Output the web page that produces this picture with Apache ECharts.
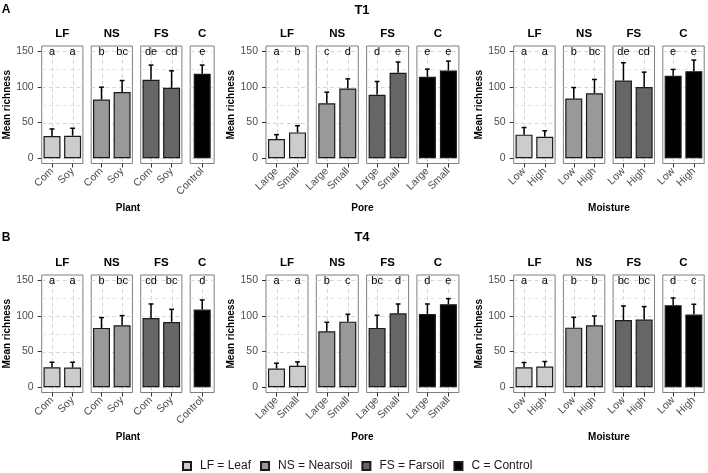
<!DOCTYPE html>
<html><head><meta charset="utf-8">
<script src="https://cdn.jsdelivr.net/npm/echarts@6/dist/echarts.min.js"></script>
<style>html,body{margin:0;padding:0;background:#fff}#c{width:708px;height:473px}</style>
</head><body><div id="c"></div>
<script>
// ---------------- data ----------------
const facets = ['LF', 'NS', 'FS', 'C'];
const legendNames = ['LF = Leaf', 'NS = Nearsoil', 'FS = Farsoil', 'C = Control'];
const plantCats = [['Com', 'Soy'], ['Com', 'Soy'], ['Com', 'Soy'], ['Control']];
const poreCats = ['Large', 'Small'];
const moistureCats = ['Low', 'High'];
const yTicks = [0, 50, 100, 150];
const yGridMajor = [0, 50, 100, 150];
const yGridMinor = [25, 75, 125];
const letterLevel = 150;

// T1 (panel A)
const t1PlantMean = [[31, 31.5], [82.3, 93], [110, 98.7], [118.5]];
const t1PlantUpper = [[41, 42], [99.7, 109], [130.7, 122.7], [130.7]];
const t1PlantLetters = [['a', 'a'], ['b', 'bc'], ['de', 'cd'], ['e']];

const t1PoreMean = [[26.8, 36.2], [77, 97.8], [88.9, 120], [114.2, 123.2]];
const t1PoreUpper = [[33, 45.6], [92.6, 111.4], [107.7, 135], [125, 136.3]];
const t1PoreLetters = [['a', 'b'], ['c', 'd'], ['d', 'e'], ['e', 'e']];

const t1MoistMean = [[33, 30], [83.7, 91.2], [109, 100], [115.7, 122.2]];
const t1MoistUpper = [[43, 38.5], [99.2, 110.5], [134, 120.8], [124.6, 137.7]];
const t1MoistLetters = [['a', 'a'], ['b', 'bc'], ['de', 'cd'], ['e', 'e']];

// T4 (panel B)
const t4PlantMean = [[28, 27.6], [83.2, 86.9], [97.2, 91.6], [108.9]];
const t4PlantUpper = [[35, 35], [97.7, 100.5], [116.8, 109.3], [122.4]];
const t4PlantLetters = [['a', 'a'], ['b', 'bc'], ['cd', 'bc'], ['d']];

const t4PoreMean = [[26.2, 29.9], [78.5, 92], [83.2, 103.7], [102.8, 116.4]];
const t4PoreUpper = [[33.6, 35.5], [91.1, 102.3], [101, 116.8], [116.8, 124.3]];
const t4PoreLetters = [['a', 'a'], ['b', 'c'], ['bc', 'd'], ['d', 'e']];

const t4MoistMean = [[28, 29], [83.6, 86.9], [94.4, 94.9], [115, 101.9]];
const t4MoistUpper = [[34.6, 36], [98.1, 100], [114, 113.1], [125.2, 116.4]];
const t4MoistLetters = [['a', 'a'], ['b', 'b'], ['bc', 'bc'], ['d', 'c']];

// ---------------- layout / style ----------------
const FONT = '"Liberation Sans", Arial, Helvetica, sans-serif';
const fills = ['#cccccc', '#999999', '#666666', '#000000'];
const ROW_TOP = [46, 275];
const PANEL_H = 117.5;
const GROUP_LEFT = [41.7, 266, 513.7];
const PANEL_W = [41.2, 42, 41.4];
const ONE_W = 24;
const GAP = 8.3;

const rep = c => [c, c, c, c];
const groups = [
  { row: 0, col: 0, cats: plantCats, mean: t1PlantMean, upper: t1PlantUpper, letters: t1PlantLetters, xName: 'Plant' },
  { row: 0, col: 1, cats: rep(poreCats), mean: t1PoreMean, upper: t1PoreUpper, letters: t1PoreLetters, xName: 'Pore' },
  { row: 0, col: 2, cats: rep(moistureCats), mean: t1MoistMean, upper: t1MoistUpper, letters: t1MoistLetters, xName: 'Moisture' },
  { row: 1, col: 0, cats: plantCats, mean: t4PlantMean, upper: t4PlantUpper, letters: t4PlantLetters, xName: 'Plant' },
  { row: 1, col: 1, cats: rep(poreCats), mean: t4PoreMean, upper: t4PoreUpper, letters: t4PoreLetters, xName: 'Pore' },
  { row: 1, col: 2, cats: rep(moistureCats), mean: t4MoistMean, upper: t4MoistUpper, letters: t4MoistLetters, xName: 'Moisture' }
];

const grid = [], xAxis = [], yAxis = [], series = [], graphic = [];

function txt(x, y, text, size, bold, color) {
  return {
    type: 'text', x: x, y: y, silent: true,
    style: {
      text: text, fill: color || '#000', fontSize: size, fontWeight: bold ? 'bold' : 'normal',
      fontFamily: FONT, align: 'center', verticalAlign: 'middle',
      textAlign: 'center', textVerticalAlign: 'middle'
    }
  };
}

groups.forEach(g => {
  let x = GROUP_LEFT[g.col];
  const start = x;
  const top = ROW_TOP[g.row];
  facets.forEach((fname, f) => {
    const cats = g.cats[f];
    const w = cats.length === 1 ? ONE_W : PANEL_W[g.col];
    const idx = grid.length;
    grid.push({
      left: x, top: top, width: w, height: PANEL_H, show: true,
      borderColor: '#7f7f7f', borderWidth: 1, backgroundColor: '#ffffff',
      containLabel: false, outerBoundsMode: 'none'
    });
    xAxis.push({
      type: 'category', gridIndex: idx, data: cats,
      axisLine: { show: false, onZero: false },
      axisTick: { show: true, alignWithLabel: true, length: 4, lineStyle: { color: '#333', width: 1 } },
      axisLabel: { rotate: 45, fontSize: 10.5, color: '#4d4d4d', margin: 6, fontFamily: FONT, interval: 0 },
      splitLine: { show: false }
    });
    yAxis.push({
      type: 'value', gridIndex: idx, min: -7.5, max: 157.5,
      axisLine: { show: false, onZero: false },
      splitLine: { show: false },
      axisTick: { show: f === 0, length: 4, customValues: yTicks, lineStyle: { color: '#333', width: 1 } },
      axisLabel: { show: f === 0, customValues: yTicks, fontSize: 10.5, color: '#4d4d4d', margin: 8, fontFamily: FONT },
      name: f === 0 ? 'Mean richness' : '', nameLocation: 'middle', nameGap: 28,
      nameTextStyle: { fontSize: 10, fontWeight: 'bold', color: '#000', fontFamily: FONT }
    });
    // horizontal gridlines
    series.push({
      type: 'custom', coordinateSystem: 'cartesian2d', xAxisIndex: idx, yAxisIndex: idx, z: 1, silent: true,
      data: yGridMajor.map(v => [0, v, 1]).concat(yGridMinor.map(v => [0, v, 0])),
      renderItem: (params, api) => {
        const cs = params.coordSys;
        const y = Math.round(api.coord([0, api.value(1)])[1]) + 0.5;
        return {
          type: 'line', silent: true,
          shape: { x1: cs.x, y1: y, x2: cs.x + cs.width, y2: y },
          style: { stroke: api.value(2) ? '#d6d6d6' : '#e6e6e6', lineWidth: 1, lineDash: [4, 3] }
        };
      }
    });
    // vertical gridlines
    series.push({
      type: 'custom', coordinateSystem: 'cartesian2d', xAxisIndex: idx, yAxisIndex: idx, z: 1, silent: true,
      data: cats.map((c, i) => [i, 0]),
      renderItem: (params, api) => {
        const cs = params.coordSys;
        const xx = Math.round(api.coord([api.value(0), 0])[0]) + 0.5;
        return {
          type: 'line', silent: true,
          shape: { x1: xx, y1: cs.y, x2: xx, y2: cs.y + cs.height },
          style: { stroke: '#d6d6d6', lineWidth: 1, lineDash: [4, 3] }
        };
      }
    });
    // error bars (upper)
    series.push({
      type: 'custom', coordinateSystem: 'cartesian2d', xAxisIndex: idx, yAxisIndex: idx, z: 2, silent: true,
      data: g.mean[f].map((m, i) => [i, m, g.upper[f][i]]),
      renderItem: (params, api) => {
        const p0 = api.coord([api.value(0), api.value(1)]);
        const p1 = api.coord([api.value(0), api.value(2)]);
        const st = { stroke: '#000', lineWidth: 1.5 };
        return {
          type: 'group', children: [
            { type: 'line', shape: { x1: p0[0], y1: p0[1], x2: p1[0], y2: p1[1] }, style: st },
            { type: 'line', shape: { x1: p1[0] - 2.4, y1: p1[1], x2: p1[0] + 2.4, y2: p1[1] }, style: st }
          ]
        };
      }
    });
    // bars
    series.push({
      type: 'bar', name: legendNames[f], xAxisIndex: idx, yAxisIndex: idx, z: 3, silent: true,
      data: g.mean[f], barWidth: 17,
      itemStyle: { color: fills[f], borderColor: '#1a1a1a', borderWidth: 1.2 }
    });
    // letters
    series.push({
      type: 'custom', coordinateSystem: 'cartesian2d', xAxisIndex: idx, yAxisIndex: idx, z: 4, silent: true,
      data: g.letters[f].map((l, i) => [i, letterLevel]),
      renderItem: (params, api) => {
        const p = api.coord([api.value(0), api.value(1)]);
        const t = g.letters[f][params.dataIndex];
        return {
          type: 'text', x: p[0], y: p[1] + 0.5,
          style: {
            text: t, fill: '#000', fontSize: 11, fontFamily: FONT,
            align: 'center', verticalAlign: 'middle', textAlign: 'center', textVerticalAlign: 'middle'
          }
        };
      }
    });
    graphic.push(txt(x + w / 2, top - 12.5, fname, 11.5, true));
    x += w + GAP;
  });
  const end = x - GAP;
  graphic.push(txt((start + end) / 2, top + PANEL_H + 45, g.xName, 10, true));
});

graphic.push(txt(362, 10.5, 'T1', 13, true));
graphic.push(txt(362, 237, 'T4', 13, true));
graphic.push(txt(6, 10, 'A', 12, true));
graphic.push(txt(6, 237.5, 'B', 12, true));

const option = {
  animation: false,
  backgroundColor: '#ffffff',
  grid: grid, xAxis: xAxis, yAxis: yAxis, series: series, graphic: graphic,
  legend: {
    data: legendNames.map(n => ({ name: n, icon: 'rect' })),
    left: 182, top: 460, padding: 0, itemWidth: 8, itemHeight: 8, itemGap: 9,
    selectedMode: false,
    textStyle: { fontSize: 12, color: '#1a1a1a', fontFamily: FONT, padding: [0, 0, 0, 4] }
  }
};
const chart = echarts.init(document.getElementById('c'), null, { renderer: 'canvas' });
chart.setOption(option);
</script>
</body></html>
